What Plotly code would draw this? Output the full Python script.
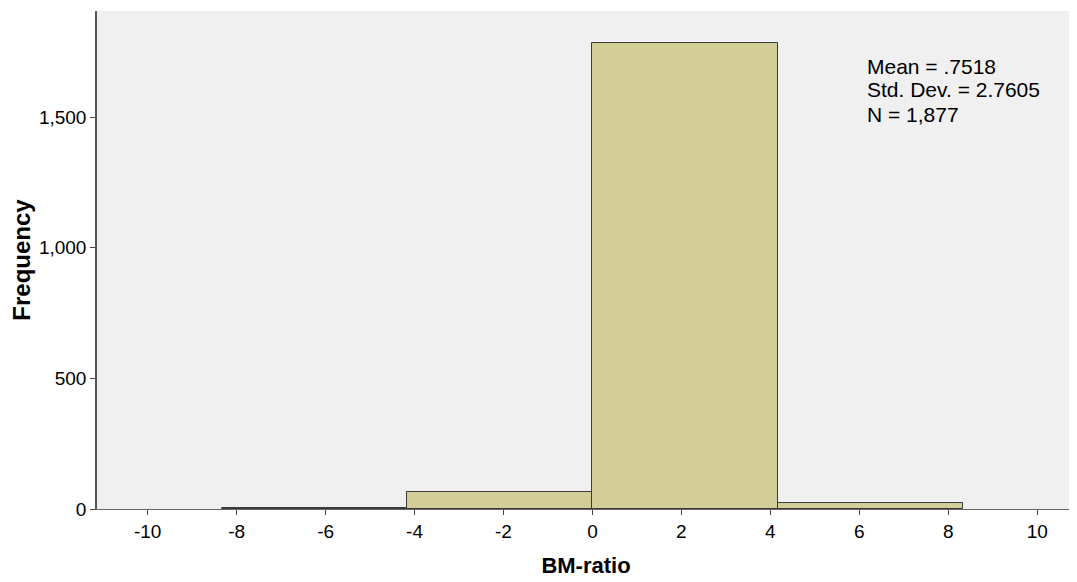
import plotly.graph_objects as go

bin_edges = [-8.33, -4.165, 0.0, 4.165, 8.33]
counts = [3, 66, 1785, 23]
x_ticks = [-10, -8, -6, -4, -2, 0, 2, 4, 6, 8, 10]
x_tick_labels = ["-10", "-8", "-6", "-4", "-2", "0", "2", "4", "6", "8", "10"]
y_ticks = [0, 500, 1000, 1500]
y_tick_labels = ["0", "500", "1,000", "1,500"]
stats_lines = ["Mean = .7518", "Std. Dev. = 2.7605", "N = 1,877"]

centers = [(bin_edges[i] + bin_edges[i + 1]) / 2 for i in range(len(counts))]
widths = [bin_edges[i + 1] - bin_edges[i] for i in range(len(counts))]

fig = go.Figure()
fig.add_trace(go.Bar(
    x=centers, y=counts, width=widths,
    marker=dict(color="#D3CE97", line=dict(color="#3a3a3a", width=1)),
    showlegend=False,
))

font_family = "Liberation Sans, Arial, sans-serif"

# page offset (body margin 8px) compensation
PL, PT, PB, PR = 97, 11, 509, 1075
plot_h = PB - PT
plot_w = PR - PL

annotations = []
line_centers = [66, 90, 114]
for txt, yc in zip(stats_lines, line_centers):
    annotations.append(dict(
        text=txt, xref="paper", yref="paper",
        x=(865 - PL) / plot_w, y=(PB - yc) / plot_h,
        xanchor="left", yanchor="middle", align="left", showarrow=False,
        font=dict(size=21, family=font_family, color="black"),
    ))

fig.update_layout(
    width=1069, height=574,
    margin=dict(l=89, r=2, t=3, b=73),
    paper_bgcolor="white",
    plot_bgcolor="#F0F0F0",
    bargap=0,
    font=dict(family=font_family, size=19, color="black"),
    xaxis=dict(
        range=[-11.14, 10.85],
        tickvals=x_ticks, ticktext=x_tick_labels,
        ticks="outside", ticklen=5, tickcolor="#444", tickwidth=1,
        showgrid=False, zeroline=False,
        showline=True, linecolor="#666", linewidth=1,
        tickfont=dict(size=19),
        title=dict(text="<b>BM-ratio</b>", font=dict(size=22), standoff=16),
    ),
    yaxis=dict(
        range=[0, 1906],
        tickvals=y_ticks, ticktext=y_tick_labels,
        ticks="outside", ticklen=5, tickcolor="#444", tickwidth=1,
        showgrid=False, zeroline=False,
        showline=True, linecolor="#555", linewidth=1.5,
        tickfont=dict(size=19),
        title=dict(text="<b>Frequency</b>", font=dict(size=24), standoff=10),
    ),
    annotations=annotations,
)

fig.write_html("out.html")
